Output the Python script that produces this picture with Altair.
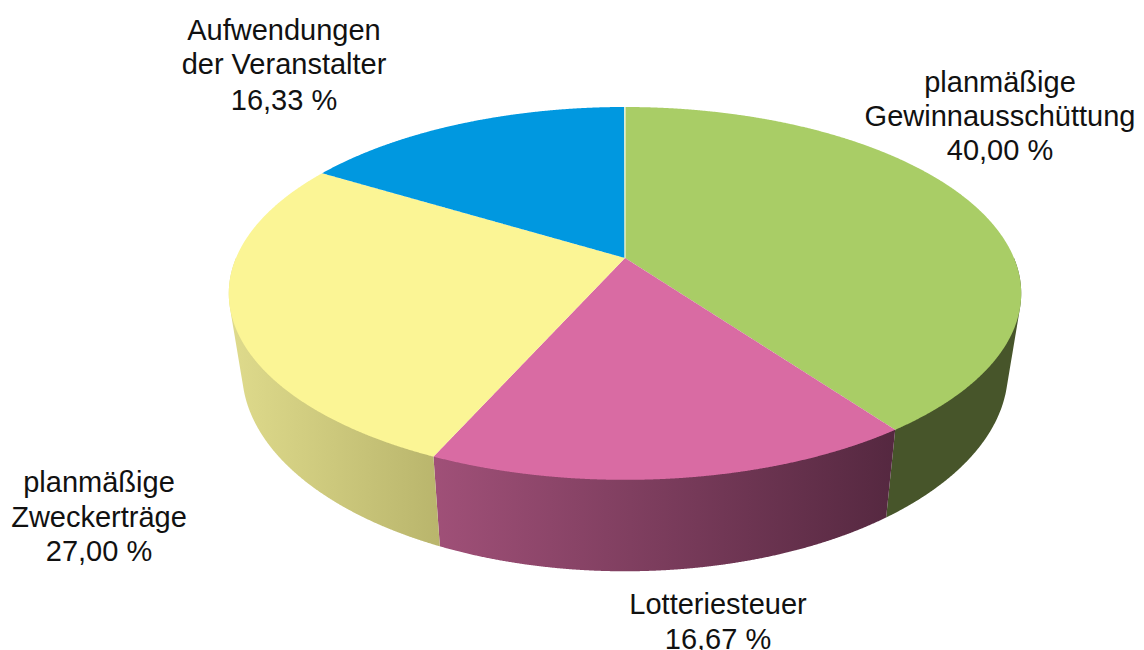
import altair as alt
import numpy as np
import pandas as pd

# Shares in percent, clockwise from the top of the pie
names = ["planmäßige Gewinnausschüttung", "Lotteriesteuer", "planmäßige Zweckerträge", "Aufwendungen der Veranstalter"]
shares = [40.00, 16.67, 27.00, 16.33]
top_colors = ["#A9CD66", "#D96BA3", "#FBF595", "#0098E0"]
side_stops = [("#47552A", "#47552A"), ("#A05078", "#552840"), ("#DFDB8C", "#B9B56C"), None]

label_lines = ["planmäßige", "Gewinnausschüttung", "40,00 %",
               "Lotteriesteuer", "16,67 %",
               "planmäßige", "Zweckerträge", "27,00 %",
               "Aufwendungen", "der Veranstalter", "16,33 %"]
label_x = [1000, 1000, 1000, 718, 718, 99, 99, 99, 284, 284, 284]
label_y = [92, 126, 160, 614, 649, 492, 527, 561, 40, 74, 110]

# Perspective view of the disc
CX, K = 625.0, 0.19
TOP = dict(y0=258.0, A=389.0, B=179.7)
BOT = dict(y0=333.0, A=376.0, B=193.0)

def project(t, d):
    u, v = np.sin(t), np.cos(t)
    w = 1 + K * v
    return CX + d["A"] * u / w, d["y0"] - d["B"] * v / w

def hull(px, py):
    pts = sorted(set(zip(np.round(px, 3).tolist(), np.round(py, 3).tolist())))
    def half(seq):
        out = []
        for p in seq:
            while len(out) > 1 and (out[-1][0]-out[-2][0])*(p[1]-out[-2][1]) - (out[-1][1]-out[-2][1])*(p[0]-out[-2][0]) <= 0:
                out.pop()
            out.append(p)
        return out
    return half(pts), half(pts[::-1])

def convex_area(px, py):
    a, b = hull(px, py)
    b = b[::-1]
    xs = np.unique(np.concatenate([np.arange(min(px), max(px), 1.0), [p[0] for p in a], [p[0] for p in b]]))
    y1 = np.interp(xs, [p[0] for p in a], [p[1] for p in a])
    y2 = np.interp(xs, [p[0] for p in b], [p[1] for p in b])
    return pd.DataFrame({"x": xs, "y": y1, "y2": y2})

xs = alt.Scale(domain=[8, 1136], range=[0, 1128])
ys = alt.Scale(domain=[650, 8], range=[642, 0])
X = alt.X("x:Q", scale=xs, axis=None)
Y = alt.Y("y:Q", scale=ys, axis=None)

def area_layer(df, fill):
    return alt.Chart(df).mark_area(color=fill, interpolate="linear", clip=False).encode(
        x=X, y=Y, y2="y2:Q")

cum = np.concatenate([[0], np.cumsum(shares)]) / 100 * 2 * np.pi
layers = []

# Rim of each slice that faces the viewer
for i, stops in enumerate(side_stops):
    if stops is None:
        continue
    lo, hi = max(cum[i], np.pi / 2), min(cum[i + 1], 3 * np.pi / 2)
    ts = np.linspace(lo, hi, 160)
    tx, ty = project(ts, TOP)
    bx, by = project(ts, BOT)
    df = convex_area(np.concatenate([tx, bx]), np.concatenate([ty, by]))
    fill = alt.Gradient(gradient="linear", x1=0, x2=1, y1=0, y2=0,
                        stops=[alt.GradientStop(color=stops[0], offset=0),
                               alt.GradientStop(color=stops[1], offset=1)])
    layers.append(area_layer(df, fill))

# Top face of each slice
for i, col in enumerate(top_colors):
    ts = np.linspace(cum[i], cum[i + 1], 240)
    tx, ty = project(ts, TOP)
    df = convex_area(np.append(tx, CX), np.append(ty, TOP["y0"]))
    layers.append(area_layer(df, col))

# Light seam at twelve o'clock
sx, sy = project(np.array([0.0]), TOP)
seam = pd.DataFrame({"x": [CX], "y": [sy[0]], "y2": [TOP["y0"]]})
layers.append(alt.Chart(seam).mark_rule(color="#E4EDCB", strokeWidth=1.5).encode(x=X, y=Y, y2="y2:Q"))

# Labels
text_df = pd.DataFrame({"x": label_x, "y": label_y, "t": label_lines})
layers.append(alt.Chart(text_df).mark_text(font="Liberation Sans", fontSize=29, color="#111111",
                                           align="center", baseline="alphabetic")
              .encode(x=X, y=Y, text="t:N"))

chart = alt.layer(*layers).properties(
    width=1128, height=642, padding=0, autosize=alt.AutoSizeParams(type="none"),
    background="white"
).configure_view(stroke=None)

chart.save("out.html", embed_options={"renderer": "svg", "actions": False})
